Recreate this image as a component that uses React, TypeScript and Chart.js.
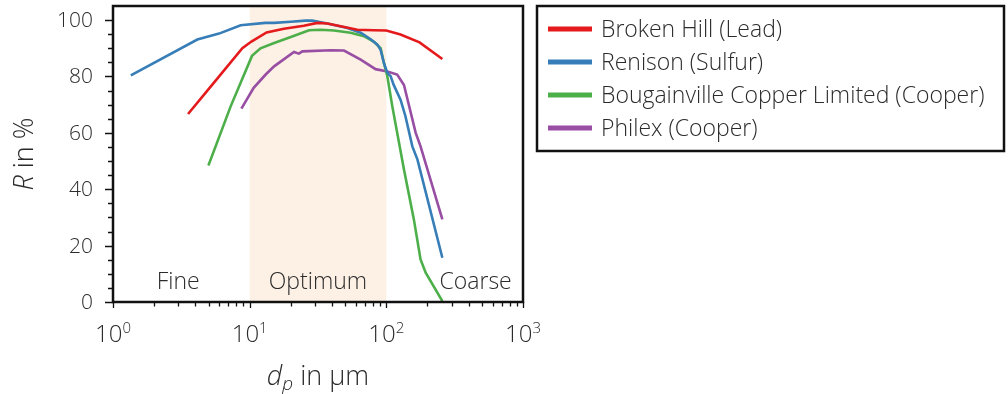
import React, { useEffect, useRef } from 'react';
import { Chart, registerables } from 'chart.js';

Chart.register(...registerables);

// ---------- data ----------
const seriesLabels = [
  'Broken Hill (Lead)',
  'Renison (Sulfur)',
  'Bougainville Copper Limited (Cooper)',
  'Philex (Cooper)',
];
const seriesColors = ['#e41a1c', '#377eb8', '#4daf4a', '#984ea3'];

const brokenHillX = [3.54, 5.33, 8.84, 10.3, 13.3, 17.8, 24.9, 31.3, 37, 46.3, 61.4, 81.2, 100, 127, 175, 257];
const brokenHillY = [66.7, 77.1, 90.0, 92.4, 95.6, 96.9, 98.0, 99.0, 98.8, 97.8, 96.6, 96.4, 96.3, 94.9, 92.1, 86.2];

const renisonX = [1.35, 4.14, 5.97, 8.6, 13.0, 15.1, 20, 25.7, 28.7, 37, 51.9, 64.9, 76.8, 86, 90.8, 96, 101.7, 107.5, 113, 127, 138, 155, 169, 257];
const renisonY = [80.4, 93.1, 95.2, 98.2, 99.0, 99.0, 99.4, 99.8, 99.8, 98.8, 97.2, 95.5, 93.2, 91.3, 89.5, 84.8, 81.3, 80.1, 77.1, 71.8, 65.9, 55.2, 50.5, 15.7];

const bougainvilleX = [4.99, 7.26, 10.4, 12, 15.1, 20, 27.2, 33, 41.4, 54.8, 68.6, 81.2, 90.8, 96, 101.7, 110.6, 134.6, 159, 178, 194, 257];
const bougainvilleY = [48.4, 69.4, 87.3, 90.0, 91.9, 94.0, 96.4, 96.6, 96.3, 95.5, 94.3, 92.3, 90.0, 84.8, 80.1, 69.4, 47.0, 29.3, 15.1, 10.4, 0.3];

const philexX = [8.7, 10.7, 13.1, 15.1, 21.1, 22.9, 24.3, 39.2, 49, 64.9, 83.4, 101.7, 120, 134.6, 164, 178, 257];
const philexY = [68.6, 76.0, 80.7, 83.6, 88.7, 88.1, 88.9, 89.3, 89.2, 86.0, 82.6, 81.8, 80.7, 77.0, 60.0, 55.2, 29.3];

const xDecades = [1, 10, 100, 1000];
const xDecadeExponents = ['0', '1', '2', '3'];
const yMajorStep = 20;
const yMinorStep = 5;
const yMin = 0;
const yMax = 105;
const yLastTick = 100;

const regionLabels = ['Fine', 'Optimum', 'Coarse'];
const regionLabelX = [3.0, 31.6, 450];
const optimumRange = [10, 100];

const xTitleMain = 'd';
const xTitleSub = 'p';
const xTitleRest = ' in µm';
const yTitleItalic = 'R';
const yTitleRest = ' in %';

// ---------- styles ----------
const FAMILY = '"Open Sans", "Noto Sans", sans-serif';
const TEXT_COLOR = '#2b2b2b';
const FRAME_COLOR = '#111111';
const BAND_COLOR = '#fdf1e5';

const zip = (xs: number[], ys: number[]) => xs.map((x, i) => ({ x, y: ys[i] }));

const decorPlugin = {
  id: 'decor',
  beforeDatasetsDraw(chart: any) {
    const { ctx, chartArea: a, scales } = chart;
    const x = scales.x;
    ctx.save();
    const x0 = x.getPixelForValue(optimumRange[0]);
    const x1 = x.getPixelForValue(optimumRange[1]);
    ctx.fillStyle = BAND_COLOR;
    ctx.fillRect(x0, a.top, x1 - x0, a.bottom - a.top);
    ctx.fillStyle = TEXT_COLOR;
    ctx.font = `300 23px ${FAMILY}`;
    ctx.textAlign = 'center';
    ctx.textBaseline = 'alphabetic';
    regionLabels.forEach((t, i) => {
      ctx.fillText(t, x.getPixelForValue(regionLabelX[i]), a.bottom - 13);
    });
    ctx.restore();
  },
  afterDraw(chart: any) {
    const { ctx, chartArea: a, scales } = chart;
    const x = scales.x;
    const y = scales.y;
    ctx.save();
    // ticks
    ctx.strokeStyle = FRAME_COLOR;
    ctx.lineWidth = 1.3;
    ctx.beginPath();
    for (let v = yMin; v <= yLastTick; v += yMinorStep) {
      const py = Math.round(y.getPixelForValue(v)) + 0.5;
      const len = v % yMajorStep === 0 ? 8 : 5;
      ctx.moveTo(a.left - len, py);
      ctx.lineTo(a.left, py);
    }
    for (let d = 0; d < xDecades.length; d++) {
      const base = xDecades[d];
      const count = d === xDecades.length - 1 ? 1 : 9;
      for (let m = 1; m <= count; m++) {
        const px = Math.round(x.getPixelForValue(base * m)) + 0.5;
        ctx.moveTo(px, a.bottom);
        ctx.lineTo(px, a.bottom + (m === 1 ? 6 : 4.5));
      }
    }
    ctx.stroke();
    // frame
    ctx.lineWidth = 2.5;
    ctx.strokeRect(a.left, a.top, a.right - a.left, a.bottom - a.top);

    // y tick labels
    ctx.fillStyle = TEXT_COLOR;
    ctx.font = `300 21px ${FAMILY}`;
    ctx.textAlign = 'right';
    ctx.textBaseline = 'middle';
    for (let v = yMin; v <= yLastTick; v += yMajorStep) {
      ctx.fillText(String(v), a.left - 20, y.getPixelForValue(v) + 1);
    }

    // x tick labels 10^n
    ctx.textBaseline = 'alphabetic';
    ctx.textAlign = 'left';
    xDecades.forEach((v, i) => {
      const px = x.getPixelForValue(v);
      ctx.font = `300 24px ${FAMILY}`;
      const w1 = ctx.measureText('10').width;
      ctx.font = `300 15px ${FAMILY}`;
      const w2 = ctx.measureText(xDecadeExponents[i]).width;
      const start = px - (w1 + w2) / 2;
      ctx.font = `300 24px ${FAMILY}`;
      ctx.fillText('10', start, a.bottom + 40);
      ctx.font = `300 15px ${FAMILY}`;
      ctx.fillText(xDecadeExponents[i], start + w1, a.bottom + 31);
    });

    // x title
    {
      const cx = (a.left + a.right) / 2;
      const base = 385;
      ctx.font = `italic 300 27px ${FAMILY}`;
      const wd = ctx.measureText(xTitleMain).width;
      ctx.font = `italic 300 19px ${FAMILY}`;
      const wp = ctx.measureText(xTitleSub).width;
      ctx.font = `300 27px ${FAMILY}`;
      const wr = ctx.measureText(xTitleRest).width;
      const start = cx - (wd + wp + wr) / 2;
      ctx.font = `italic 300 27px ${FAMILY}`;
      ctx.fillText(xTitleMain, start, base);
      ctx.font = `italic 300 19px ${FAMILY}`;
      ctx.fillText(xTitleSub, start + wd, base + 5);
      ctx.font = `300 27px ${FAMILY}`;
      ctx.fillText(xTitleRest, start + wd + wp, base);
    }
    // y title
    {
      ctx.save();
      ctx.translate(33, (a.top + a.bottom) / 2);
      ctx.rotate(-Math.PI / 2);
      ctx.textAlign = 'left';
      ctx.textBaseline = 'alphabetic';
      ctx.font = `italic 300 27px ${FAMILY}`;
      const wR = ctx.measureText(yTitleItalic).width;
      ctx.font = `300 27px ${FAMILY}`;
      const wRest = ctx.measureText(yTitleRest).width;
      const start = -(wR + wRest) / 2;
      ctx.font = `italic 300 27px ${FAMILY}`;
      ctx.fillText(yTitleItalic, start, 0);
      ctx.font = `300 27px ${FAMILY}`;
      ctx.fillText(yTitleRest, start + wR, 0);
      ctx.restore();
    }

    // legend
    {
      const lx = 537;
      const ly = 6;
      const lw = 467;
      const lh = 145;
      ctx.fillStyle = '#ffffff';
      ctx.fillRect(lx, ly, lw, lh);
      ctx.strokeStyle = FRAME_COLOR;
      ctx.lineWidth = 2.5;
      ctx.strokeRect(lx, ly, lw, lh);
      ctx.font = `300 23px ${FAMILY}`;
      ctx.textBaseline = 'middle';
      ctx.textAlign = 'left';
      chart.data.datasets.forEach((ds: any, i: number) => {
        const ry = ly + 23 + i * 33;
        ctx.strokeStyle = ds.borderColor;
        ctx.lineWidth = 5;
        ctx.beginPath();
        ctx.moveTo(lx + 11, ry);
        ctx.lineTo(lx + 55, ry);
        ctx.stroke();
        ctx.fillStyle = TEXT_COLOR;
        ctx.fillText(ds.label, lx + 64, ry + 1);
      });
    }
    ctx.restore();
  },
};

export default function App() {
  const canvasRef = useRef<HTMLCanvasElement | null>(null);

  useEffect(() => {
    if (!canvasRef.current) return;
    const xs = [brokenHillX, renisonX, bougainvilleX, philexX];
    const ys = [brokenHillY, renisonY, bougainvilleY, philexY];
    const chart = new Chart(canvasRef.current, {
      type: 'line',
      data: {
        datasets: seriesLabels.map((label, i) => ({
          label,
          data: zip(xs[i], ys[i]),
          borderColor: seriesColors[i],
          backgroundColor: seriesColors[i],
          borderWidth: 2.6,
          pointRadius: 0,
          tension: 0,
          fill: false,
        })),
      },
      options: {
        animation: false,
        responsive: true,
        maintainAspectRatio: false,
        layout: { padding: { left: 0, right: 1008 - 523, top: 6, bottom: 0 } },
        plugins: {
          legend: { display: false },
          tooltip: { enabled: false },
        },
        scales: {
          x: {
            type: 'logarithmic',
            min: xDecades[0],
            max: xDecades[xDecades.length - 1],
            grid: { display: false, drawTicks: false },
            border: { display: false },
            ticks: { display: false },
            afterFit: (s: any) => {
              s.height = 394 - 302;
            },
          },
          y: {
            min: yMin,
            max: yMax,
            grid: { display: false, drawTicks: false },
            border: { display: false },
            ticks: { display: false, stepSize: yMinorStep },
            afterFit: (s: any) => {
              s.width = 113;
            },
          },
        },
      } as any,
      plugins: [decorPlugin],
    });
    return () => chart.destroy();
  }, []);

  return (
    <div style={{ position: 'fixed', left: 0, top: 0, width: 1008, height: 394, background: '#fff' }}>
      <canvas ref={canvasRef} />
    </div>
  );
}
